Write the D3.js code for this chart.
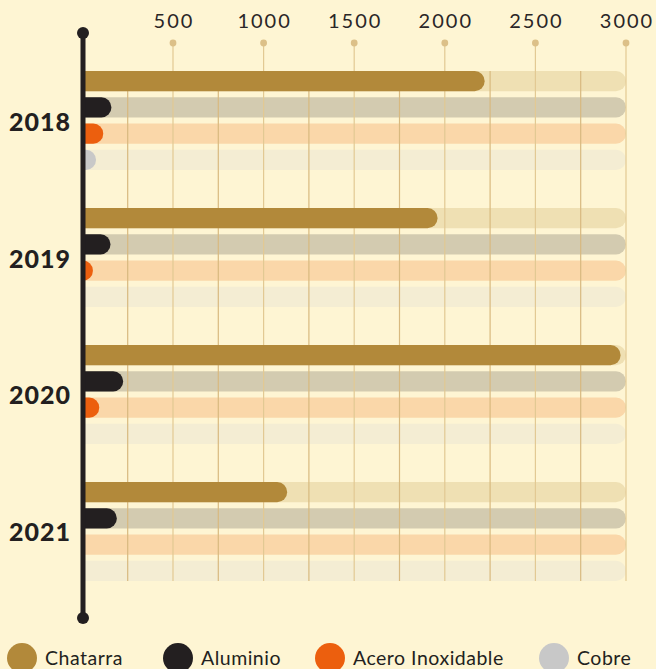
<!DOCTYPE html>
<html>
<head>
<meta charset="utf-8">
<script src="https://cdn.jsdelivr.net/npm/d3@7"></script>
<style>
  html, body { margin: 0; padding: 0; background: #fef5d3; }
  svg { display: block; }
  .tick-label { font-family: Lato, sans-serif; font-weight: 400; font-size: 20px; fill: #2a2627; letter-spacing: 2px; }
  .year-label { font-family: Lato, sans-serif; font-weight: 900; font-size: 25px; fill: #231f20; letter-spacing: 1px; }
  .legend-label { font-family: Lato, sans-serif; font-weight: 400; font-size: 19.5px; fill: #231f20; letter-spacing: 0.5px; }
</style>
</head>
<body>
<script>
// Toneladas recicladas por material y año
var years    = ["2018", "2019", "2020", "2021"];
var series   = ["Chatarra", "Aluminio", "Acero Inoxidable", "Cobre"];
var chatarra = [2220, 1960, 2970, 1130];
var aluminio = [160, 155, 225, 190];
var acero    = [115, 58, 93, 0];
var cobre    = [75, 0, 0, 0];
var ticks    = [500, 1000, 1500, 2000, 2500, 3000];
var midTicks = [250, 750, 1250, 1750, 2250, 2750];

var barColors   = ["#b2893a", "#231f20", "#ec5f0e", "#c8c8c8"];
var trackColors = ["#efe0b3", "#d3cbb0", "#fad7a9", "#f4edd3"];

(function() {
  var width = 656, height = 669,
      axisX = 83,
      barH = 20,
      plotTop = 71, plotBottom = 581;

  var values = [chatarra, aluminio, acero, cobre];

  var svg = d3.select("body").append("svg")
      .attr("width", width)
      .attr("height", height);

  var x = d3.scaleLinear().domain([0, 3000]).range([82.4, 626]);

  var yGroup = d3.scaleBand().domain(years)
      .range([plotTop, plotBottom])
      .paddingInner(0.277).paddingOuter(0);

  var yRow = d3.scaleBand().domain(series)
      .range([0, yGroup.bandwidth()])
      .paddingInner(0.2308);

  // bars only show right of the axis, so the left round end is hidden
  svg.append("clipPath").attr("id", "clip")
    .append("rect")
      .attr("x", axisX).attr("y", 0)
      .attr("width", width).attr("height", height);

  var rows = [];
  years.forEach(function(yr, i) {
    series.forEach(function(s, j) {
      rows.push({ year: yr, serie: s, idx: j, value: values[j][i] });
    });
  });

  function rowY(d) { return yGroup(d.year) + yRow(d.serie); }

  // background tracks up to 3000
  svg.append("g").attr("clip-path", "url(#clip)")
    .selectAll("rect").data(rows).enter().append("rect")
      .attr("x", axisX - barH / 2)
      .attr("y", rowY)
      .attr("width", x(3000) - axisX + barH / 2)
      .attr("height", yRow.bandwidth())
      .attr("rx", barH / 2)
      .attr("fill", function(d) { return trackColors[d.idx]; });

  // grid lines
  svg.append("g").selectAll("line").data(midTicks).enter().append("line")
      .attr("x1", x).attr("x2", x)
      .attr("y1", plotTop).attr("y2", plotBottom)
      .attr("stroke", "#d8b97f").attr("stroke-width", 1.2);

  var tickG = svg.append("g").selectAll("g").data(ticks).enter().append("g")
      .attr("transform", function(d) { return "translate(" + x(d) + ",0)"; });
  tickG.append("line")
      .attr("y1", 43).attr("y2", plotBottom)
      .attr("stroke", "#e2c993").attr("stroke-width", 1.2);
  tickG.append("circle")
      .attr("cy", 43).attr("r", 3.4)
      .attr("fill", "#dcc088");
  tickG.append("text")
      .attr("class", "tick-label")
      .attr("x", 1)
      .attr("y", 28)
      .attr("text-anchor", "middle")
      .text(function(d) { return d; });

  // value bars
  svg.append("g").attr("clip-path", "url(#clip)")
    .selectAll("rect").data(rows).enter().append("rect")
      .attr("x", axisX - barH / 2)
      .attr("y", rowY)
      .attr("width", function(d) { return Math.max(0, x(d.value) - axisX) + barH / 2; })
      .attr("height", yRow.bandwidth())
      .attr("rx", barH / 2)
      .attr("fill", function(d) { return barColors[d.idx]; });

  // vertical axis with end dots
  svg.append("line")
      .attr("x1", axisX).attr("x2", axisX)
      .attr("y1", 33).attr("y2", 618)
      .attr("stroke", "#231f20").attr("stroke-width", 5);
  svg.selectAll("circle.end").data([33, 618]).enter().append("circle")
      .attr("class", "end")
      .attr("cx", axisX).attr("cy", function(d) { return d; })
      .attr("r", 6).attr("fill", "#231f20");

  // year labels
  svg.append("g").selectAll("text").data(years).enter().append("text")
      .attr("class", "year-label")
      .attr("x", 71)
      .attr("y", function(d) { return yGroup(d) + yGroup.bandwidth() / 2 + 10; })
      .attr("text-anchor", "end")
      .text(function(d) { return d; });

  // legend
  var legendX = [22, 178, 330, 554];
  var legend = svg.append("g").selectAll("g").data(series).enter().append("g")
      .attr("transform", function(d, i) { return "translate(" + legendX[i] + ",658)"; });
  legend.append("circle")
      .attr("r", 15)
      .attr("fill", function(d, i) { return barColors[i]; });
  legend.append("text")
      .attr("class", "legend-label")
      .attr("x", 23)
      .attr("y", 7)
      .text(function(d) { return d; });
})();
</script>
</body>
</html>
